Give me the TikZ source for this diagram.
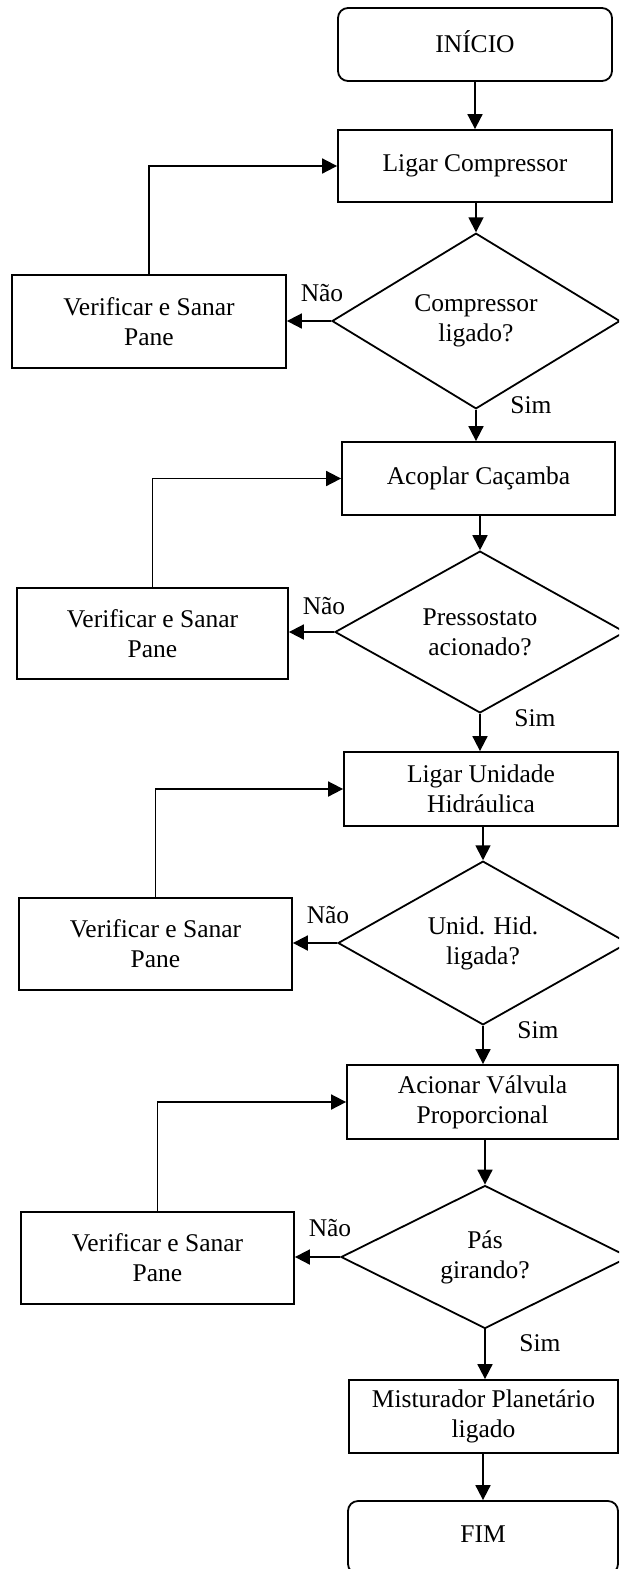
\documentclass[tikz,border=0pt]{standalone}
\usepackage{fontspec}
\setmainfont{Liberation Serif}
\usetikzlibrary{shapes.geometric,arrows.meta}
\begin{document}
\begin{tikzpicture}[x=1pt,y=-1pt,
  every node/.style={font=\fontsize{25.5}{30}\selectfont},
  sz/.style 2 args={minimum width=#1pt,minimum height=#2pt},
  box/.style={draw, line width=1.8pt, rectangle, inner sep=0pt, align=center},
  term/.style={box, rounded corners=10pt},
  dec/.style={draw, line width=1.8pt, diamond, inner sep=0pt, align=center},
  arr/.style={line width=1.8pt, -{Triangle[length=15pt,width=15pt]}},
  lbl/.style={inner sep=0pt}]
\useasboundingbox (0,0) rectangle (619,1569);
\clip (0,0) rectangle (619,1569);
\fill[white] (0,0) rectangle (619,1569);

\node[term, sz={274}{73}] (ini) at (475,44.5) {\raisebox{6pt}{INÍCIO}};
\node[box, sz={274}{72}] (lc) at (475,166) {Ligar Compressor};
\node[dec, sz={288}{145}] (d1) at (476,321) {Compressor\\ligado?};
\node[box, sz={274}{93}] (v1) at (149,321.5) {Verificar e Sanar\\Pane};

\node[box, sz={273}{73}] (ac) at (478.5,478.5) {Acoplar Caçamba};
\node[dec, sz={290}{144}] (d2) at (480,632) {Pressostato\\acionado?};
\node[box, sz={271}{91}] (v2) at (152.5,633.5) {Verificar e Sanar\\Pane};

\node[box, sz={274}{74}] (lu) at (481,789) {Ligar Unidade\\Hidráulica};
\node[dec, sz={290}{143}] (d3) at (483,943) {Unid. Hid.\\ligada?};
\node[box, sz={273}{92}] (v3) at (155.5,944) {Verificar e Sanar\\Pane};

\node[box, sz={271}{74}] (av) at (482.5,1102) {Acionar Válvula\\Proporcional};
\node[dec, sz={288}{143}] (d4) at (485,1257) {Pás\\girando?};
\node[box, sz={273}{92}] (v4) at (157.5,1258) {Verificar e Sanar\\Pane};

\node[box, sz={269}{73}] (mp) at (483.5,1416.5) {Misturador Planetário\\ligado};
\node[term, sz={270}{73}] (fim) at (483,1537.5) {\raisebox{6pt}{FIM}};

% labels
\node[lbl] (n1) at (322,293) {Não};
\node[lbl] (s1) at (531,405) {Sim};
\node[lbl] (n2) at (324,606) {Não};
\node[lbl] (s2) at (535,718) {Sim};
\node[lbl] (n3) at (328,915) {Não};
\node[lbl] (s3) at (538,1030) {Sim};
\node[lbl] (n4) at (330,1228) {Não};
\node[lbl] (s4) at (540,1343) {Sim};

% connectors
\draw[arr] (ini.south) -- (lc.north);
\draw[arr] (lc.south -| d1.north) -- (d1.north);
\draw[arr] (d1.west) -- (d1.west -| v1.east);
\draw[arr] (v1.north) |- (lc.west);
\draw[arr] (d1.south) -- (d1.south |- ac.north);

\draw[arr] (ac.south -| d2.north) -- (d2.north);
\draw[arr] (d2.west) -- (d2.west -| v2.east);
\draw[arr] (v2.north) |- (ac.west);
\draw[arr] (d2.south) -- (d2.south |- lu.north);

\draw[arr] (lu.south -| d3.north) -- (d3.north);
\draw[arr] (d3.west) -- (d3.west -| v3.east);
\draw[arr] (v3.north) |- (lu.west);
\draw[arr] (d3.south) -- (d3.south |- av.north);

\draw[arr] (av.south -| d4.north) -- (d4.north);
\draw[arr] (d4.west) -- (d4.west -| v4.east);
\draw[arr] (v4.north) |- (av.west);
\draw[arr] (d4.south) -- (d4.south |- mp.north);

\draw[arr] (mp.south -| fim.north) -- (fim.north);
\end{tikzpicture}
\end{document}
